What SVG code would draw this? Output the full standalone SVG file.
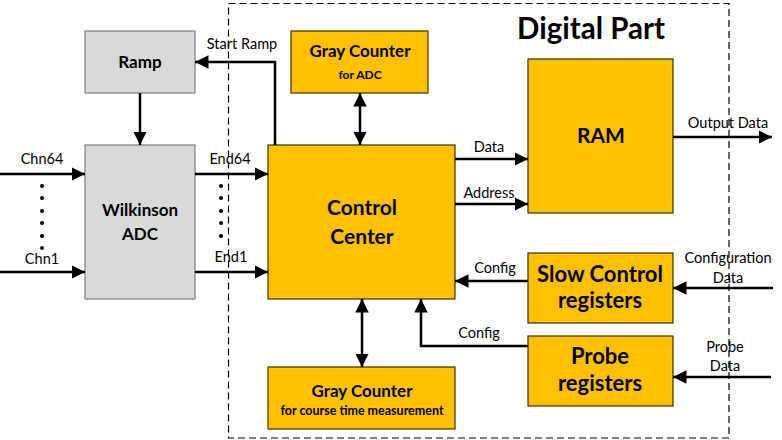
<svg xmlns="http://www.w3.org/2000/svg" width="782" height="440" viewBox="0 0 782 440">
<defs>
<marker id="ah" viewBox="0 0 10 10" refX="10" refY="5" markerWidth="5.4" markerHeight="5.4" orient="auto-start-reverse" markerUnits="strokeWidth">
<path d="M0,0 L10,5 L0,10 Z" fill="#000"/>
</marker>
<style>
.o{fill:#FFC000;stroke:#3a3000;stroke-width:1.2}
.g{fill:#D9D9D9;stroke:#7f7f7f;stroke-width:1.2}
.t{font-family:Lato,"Liberation Sans",sans-serif;font-weight:bold;fill:#000;text-anchor:middle}
.l{font-family:Lato,"Liberation Sans",sans-serif;font-size:14.5px;fill:#000;text-anchor:middle}
.c{fill:none;stroke:#000;stroke-width:2.5}
.a{marker-end:url(#ah)}
.b{marker-start:url(#ah);marker-end:url(#ah)}
</style>
</defs>
<rect width="782" height="440" fill="#fff"/>
<rect id="digital-part" x="228.5" y="3.5" width="500.5" height="434.5" fill="none" stroke="#000" stroke-width="1.2" stroke-dasharray="7,4"/>
<text class="t" x="591" y="39" font-size="29.5">Digital Part</text>

<g id="ramp"><rect class="g" x="85" y="31" width="110" height="62"/><text class="t" x="140" y="68" font-size="17">Ramp</text></g>
<g id="adc"><rect class="g" x="85" y="145" width="110" height="154"/><text class="t" x="140" y="216" font-size="17">Wilkinson</text><text class="t" x="140" y="240" font-size="17">ADC</text></g>
<g id="control"><rect class="o" x="268" y="145" width="187" height="154"/><text class="t" x="362" y="215" font-size="21">Control</text><text class="t" x="362" y="244" font-size="21">Center</text></g>
<g id="gray-adc"><rect class="o" x="291" y="31" width="137" height="62"/><text class="t" x="360" y="57" font-size="17">Gray Counter</text><text class="t" x="360" y="79" font-size="12">for ADC</text></g>
<g id="ram"><rect class="o" x="528" y="59" width="145" height="154"/><text class="t" x="601" y="143" font-size="21">RAM</text></g>
<g id="slow-control"><rect class="o" x="528" y="253" width="145" height="70"/><text class="t" x="600" y="282" font-size="22">Slow Control</text><text class="t" x="600" y="308" font-size="22">registers</text></g>
<g id="probe"><rect class="o" x="528" y="336" width="145" height="70"/><text class="t" x="600" y="364" font-size="22">Probe</text><text class="t" x="600" y="391" font-size="22">registers</text></g>
<g id="gray-time"><rect class="o" x="268" y="367" width="187" height="62"/><text class="t" x="362" y="397" font-size="17">Gray Counter</text><text class="t" x="362" y="415" font-size="12.5">for course time measurement</text></g>

<g id="connectors">
<path class="c a" d="M140,93 V145"/>
<path class="c a" d="M275,145 V62 H195"/>
<path class="c b" d="M360,93 V145"/>
<path class="c a" d="M0,174 H85"/>
<path class="c a" d="M0,272 H85"/>
<path class="c a" d="M195,174 H268"/>
<path class="c a" d="M195,272 H268"/>
<path class="c a" d="M455,159 H528"/>
<path class="c a" d="M455,204 H528"/>
<path class="c a" d="M673,137 H772"/>
<path class="c a" d="M528,281 H455"/>
<path class="c a" d="M528,346 H421 V299"/>
<path class="c a" d="M773,288 H673"/>
<path class="c a" d="M771,377 H673"/>
<path class="c b" d="M362,299 V367"/>
<g fill="#000">
<circle cx="42" cy="186" r="2"/><circle cx="42" cy="198" r="2"/><circle cx="42" cy="211" r="2"/><circle cx="42" cy="223" r="2"/><circle cx="42" cy="236" r="2"/><circle cx="42" cy="248" r="2"/>
<circle cx="221" cy="186" r="2"/><circle cx="221" cy="198" r="2"/><circle cx="221" cy="211" r="2"/><circle cx="221" cy="223" r="2"/><circle cx="221" cy="236" r="2"/>
</g>
</g>

<g id="labels">
<text class="l" x="242" y="49">Start Ramp</text>
<text class="l" x="42" y="164">Chn64</text>
<text class="l" x="42" y="264">Chn1</text>
<text class="l" x="230" y="164">End64</text>
<text class="l" x="231" y="262">End1</text>
<text class="l" x="489" y="152">Data</text>
<text class="l" x="489" y="198">Address</text>
<text class="l" x="728" y="128">Output Data</text>
<text class="l" x="495" y="273">Config</text>
<text class="l" x="479" y="338">Config</text>
<text class="l" x="728" y="263">Configuration</text>
<text class="l" x="728" y="283">Data</text>
<text class="l" x="725" y="352">Probe</text>
<text class="l" x="725" y="371">Data</text>
</g>
</svg>
